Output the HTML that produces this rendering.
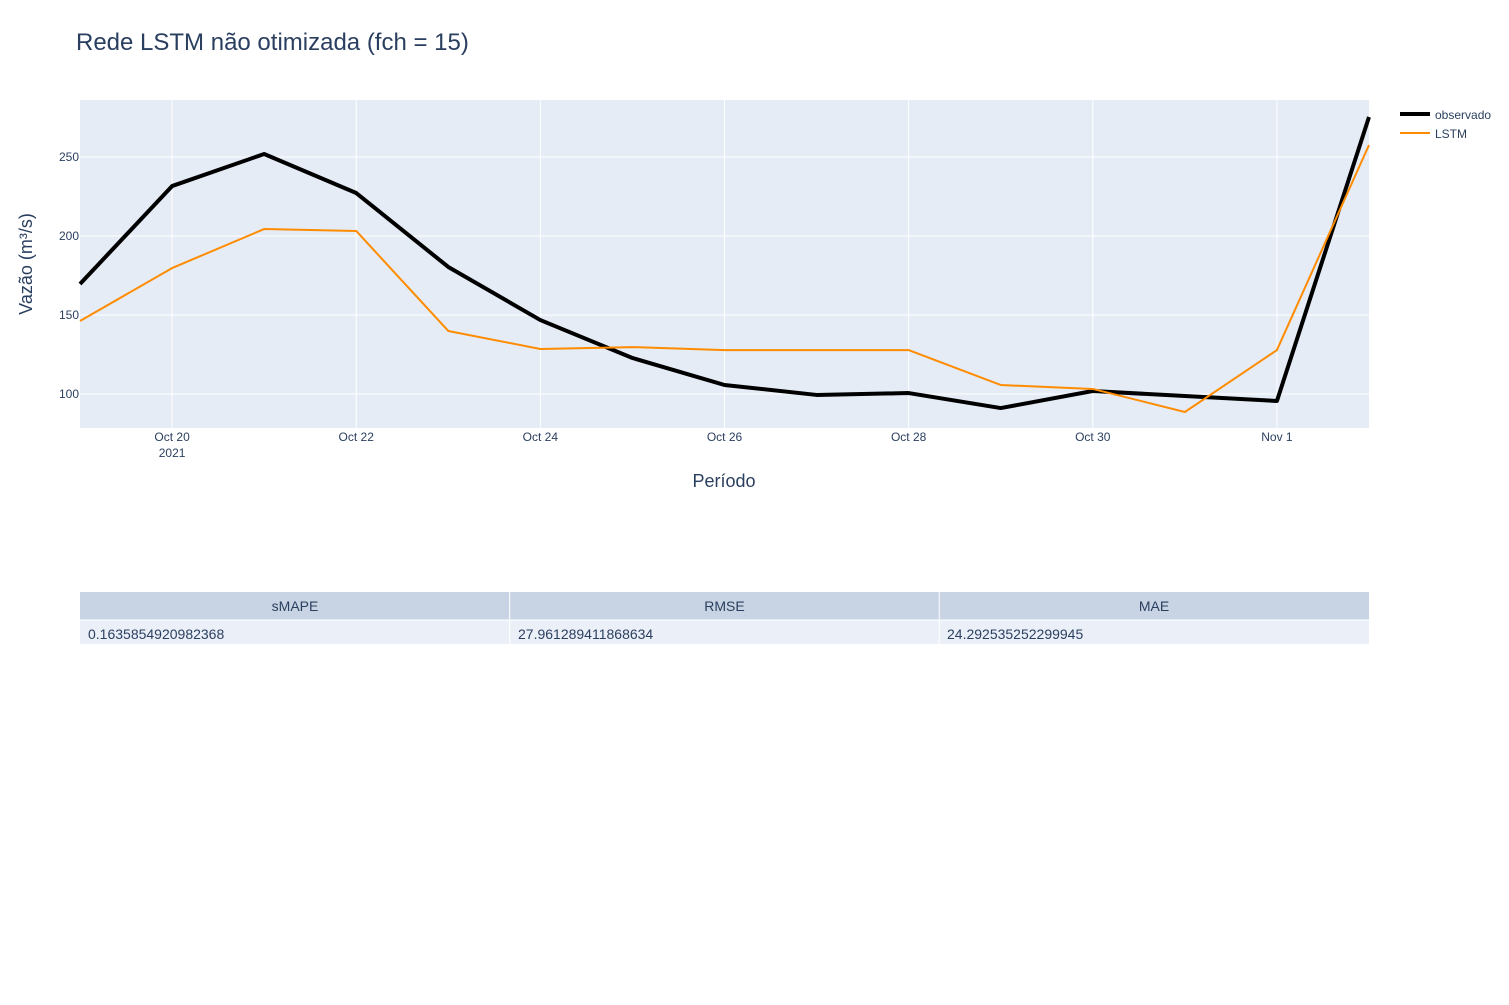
<!DOCTYPE html>
<html><head><meta charset="utf-8"><style>
body{margin:0;background:#fff;font-family:"Liberation Sans",sans-serif;}
</style></head><body>
<svg id="c" width="1509" height="1000" xmlns="http://www.w3.org/2000/svg">
<rect width="1509" height="1000" fill="#fff"/>
<text x="76" y="50" font-size="24" fill="#2a3f5f">Rede LSTM não otimizada (fch = 15)</text>
<rect x="80" y="100" width="1289" height="328" fill="#e5ecf6"/>
<g id="grid"></g>
<g id="series"></g>
<text x="724" y="487" font-size="18" fill="#2a3f5f" text-anchor="middle">Período</text>
<text x="0" y="0" font-size="18" fill="#2a3f5f" text-anchor="middle" transform="translate(32,264) rotate(-90)">Vazão (m³/s)</text>
<g>
<line x1="1400" y1="114" x2="1430" y2="114" stroke="#000" stroke-width="4"/>
<text x="1435" y="119" font-size="12" fill="#2a3f5f">observado</text>
<line x1="1400" y1="133" x2="1430" y2="133" stroke="#ff8c00" stroke-width="2"/>
<text x="1435" y="138" font-size="12" fill="#2a3f5f">LSTM</text>
</g>
<g>
<rect x="80" y="592" width="1289" height="28" fill="#c8d4e3"/>
<rect x="80" y="620" width="1289" height="24" fill="#ebf0f8"/>
<line x1="80" y1="620" x2="1369" y2="620" stroke="#fff" stroke-width="1"/>
<line x1="509.7" y1="592" x2="509.7" y2="644" stroke="#fff"/>
<line x1="939.3" y1="592" x2="939.3" y2="644" stroke="#fff"/>
<g font-size="14" fill="#2a3f5f">
<text x="295" y="611" text-anchor="middle">sMAPE</text>
<text x="724.5" y="611" text-anchor="middle">RMSE</text>
<text x="1154" y="611" text-anchor="middle">MAE</text>
<text x="88" y="639">0.1635854920982368</text>
<text x="518" y="639">27.961289411868634</text>
<text x="947" y="639">24.292535252299945</text>
</g></g>
</svg>
<script>
const dayLabels=["Oct 19","Oct 20","Oct 21","Oct 22","Oct 23","Oct 24","Oct 25","Oct 26","Oct 27","Oct 28","Oct 29","Oct 30","Oct 31","Nov 1","Nov 2"];
const observado=[169.6,231.6,251.9,227.2,180.4,146.8,122.8,105.7,99.4,100.6,91.1,101.9,98.7,95.6,275.3];
const lstm=[146.2,179.7,204.4,203.2,139.9,128.5,129.7,127.8,127.8,127.8,105.7,103.2,88.6,127.8,257.6];
const yTicks=[100,150,200,250];
const xTickIdx=[1,3,5,7,9,11,13];
const xTickLabels=["Oct 20","Oct 22","Oct 24","Oct 26","Oct 28","Oct 30","Nov 1"];
const NS="http://www.w3.org/2000/svg";
const X=i=>80+i*(1289/14);
const Y=v=>394-(v-100)*1.58;
const grid=document.getElementById('grid'),ser=document.getElementById('series');
function mk(tag,at,parent){const e=document.createElementNS(NS,tag);for(const k in at)e.setAttribute(k,at[k]);parent.appendChild(e);return e;}
yTicks.forEach(v=>{
 const l=mk('line',{x1:80,x2:1369,y1:Y(v),y2:Y(v),stroke:'#fff','stroke-width':1},grid);
 
 
 const t=mk('text',{x:79,y:Y(v)+4,'font-size':12,fill:'#2a3f5f','text-anchor':'end'},grid);
 t.textContent=v;
 
 
});
xTickIdx.forEach((i,k)=>{
 const l=mk('line',{x1:X(i),x2:X(i),y1:100,y2:428,stroke:'#fff','stroke-width':1},grid);
 
 
 const t=mk('text',{x:X(i),y:441,'font-size':12,fill:'#2a3f5f','text-anchor':'middle'},grid);
 t.textContent=xTickLabels[k];
 
 
});
const yr=mk('text',{x:X(1),y:457,'font-size':12,fill:'#2a3f5f','text-anchor':'middle'},grid);
yr.textContent='2021';


const p1=mk('polyline',{points:observado.map((v,i)=>X(i)+','+Y(v)).join(' '),fill:'none',stroke:'#000','stroke-width':4,'stroke-linejoin':'round'},ser);


const p2=mk('polyline',{points:lstm.map((v,i)=>X(i)+','+Y(v)).join(' '),fill:'none',stroke:'#ff8c00','stroke-width':2,'stroke-linejoin':'round'},ser);


</script>
</body></html>
